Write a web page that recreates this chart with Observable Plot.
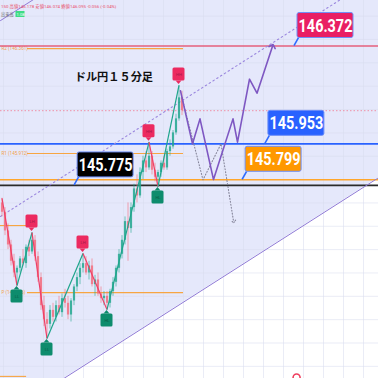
<!DOCTYPE html>
<html>
<head>
<meta charset="utf-8">
<script src="https://cdn.jsdelivr.net/npm/d3@7"></script>
<script src="https://cdn.jsdelivr.net/npm/@observablehq/plot@0.6"></script>
<style>
  html, body { margin: 0; padding: 0; background: #fff; overflow: hidden; }
  #chart svg { display: block; overflow: hidden; }
</style>
</head>
<body>
<div id="chart"></div>
<script>
// USD/JPY 15-minute candles (bar index = position on the time axis)
const open  = [145.700,145.660,145.580,145.520,145.450,145.400,145.420,145.460,145.440,145.510,
               145.490,145.540,145.470,145.380,145.260,145.200,145.180,145.240,145.210,145.260,
               145.230,145.290,145.270,145.220,145.280,145.340,145.380,145.420,145.440,145.400,
               145.430,145.350,145.370,145.310,145.290,145.300,145.270,145.320,145.360,145.420,
               145.480,145.540,145.620,145.590,145.680,145.760,145.730,145.830,145.880,145.850,
               145.900,145.840,145.810,145.830,145.870,145.850,145.920,145.940,146.000,146.060,
               146.150];
const high  = [145.720,145.680,145.610,145.540,145.480,145.430,145.470,145.500,145.520,145.540,
               145.573,145.560,145.490,145.400,145.300,145.230,145.260,145.270,145.280,145.300,
               145.310,145.330,145.300,145.290,145.350,145.400,145.440,145.483,145.470,145.450,
               145.460,145.390,145.400,145.340,145.320,145.320,145.330,145.380,145.430,145.500,
               145.560,145.640,145.700,145.700,145.780,145.820,145.850,145.900,145.920,145.960,
               145.920,145.870,145.840,145.880,145.900,145.930,145.970,146.010,146.080,146.203,
               146.178];
const low   = [145.640,145.560,145.500,145.430,145.380,145.346,145.400,145.430,145.420,145.470,
               145.480,145.450,145.360,145.240,145.170,145.119,145.160,145.190,145.190,145.220,
               145.210,145.250,145.200,145.190,145.260,145.320,145.350,145.400,145.390,145.370,
               145.340,145.300,145.300,145.270,145.260,145.243,145.250,145.300,145.340,145.400,
               145.460,145.520,145.450,145.570,145.660,145.700,145.720,145.800,145.830,145.840,
               145.820,145.790,145.770,145.810,145.840,145.840,145.900,145.930,145.990,146.050,
               146.074];
const close = [145.660,145.580,145.520,145.450,145.400,145.420,145.460,145.440,145.510,145.490,
               145.540,145.470,145.380,145.260,145.200,145.180,145.240,145.210,145.260,145.230,
               145.290,145.270,145.220,145.280,145.340,145.380,145.420,145.440,145.400,145.430,
               145.350,145.370,145.310,145.290,145.300,145.270,145.320,145.360,145.420,145.480,
               145.540,145.620,145.590,145.680,145.760,145.730,145.830,145.880,145.850,145.900,
               145.840,145.810,145.830,145.870,145.850,145.920,145.940,146.000,146.060,146.150,
               146.095];

// ZigZag swing points
const pivotBar   = [0, 5, 10, 15, 27, 35, 49, 52, 59];
const pivotPrice = [145.720, 145.346, 145.573, 145.119, 145.483, 145.243, 145.960, 145.770, 146.203];
const pivotLabel = ["", "LL", "LH", "LL", "LH", "HL", "HH", "HL", "HH"];

// Price callouts and their horizontal levels
const levelPrice  = [146.372, 145.953, 145.799, 145.775];
const levelColor  = ["#e4607c", "#2962ff", "#ffa62b", "#2b2b2b"];
const boxColor    = ["#e91e63", "#2962ff", "#ff9800", "#000000"];
const calloutBar  = [97.5, 87.8, 80.2, 24.2];

// Daily pivot levels (current session) and previous-session stubs
const pivotLevelName  = ["R2", "R1", "P"];
const pivotLevelPrice = [146.361, 145.912, 145.316];
const prevLevelPrice  = [145.603, 144.957];

// Last price
const lastPrice = 146.095;

// Rising channel lines
const channelLowerBar   = [-1, 126];
const channelLowerPrice = [144.771, 145.812];
const channelMidBar     = [-0.5, 126];
const channelMidPrice   = [145.642, 146.679];
const channelUpperBar   = [-0.5, 15];
const channelUpperPrice = [146.481, 146.608];

// Scenario paths
const mainPathBar   = [59.5, 63.5, 66, 70.5, 77, 78.5, 82.5, 85, 90.2];
const mainPathPrice = [146.18, 145.953, 146.06, 145.80, 146.06, 145.96, 146.23, 146.17, 146.372];
const altPathBar    = [60, 67, 73, 77.2];
const altPathPrice  = [146.15, 145.799, 145.953, 145.62];

// Event marker on the time axis
const eventBar = [98.2];

// Header texts
const title = "ドル円１５分足";
const ohlcLine = "150 高値146.178 安値146.074 終値146.095 -0.056 (-0.04%)";
const volLabel = "出来高";
const volValue = "1.08";

// ---- tables built from the arrays ----
const UP = "#22a68f", DOWN = "#f26b7c";
const candles = open.map((o, i) => ({bar: i, open: o, high: high[i], low: low[i], close: close[i],
  color: close[i] >= o ? UP : DOWN}));
const pivots = pivotBar.map((b, i) => ({bar: b, price: pivotPrice[i], label: pivotLabel[i]}));
const legs = d3.pairs(pivots).map(([a, b]) => ({x1: a.bar, y1: a.price, x2: b.bar, y2: b.price,
  color: b.price < a.price ? "#ef3f67" : "#1fa58c"}));
const highs = pivots.filter(d => d.label.endsWith("H"));
const lows = pivots.filter(d => d.label.endsWith("L"));
const levels = levelPrice.map((p, i) => ({price: p, color: levelColor[i]}));
const callouts = levelPrice.map((p, i) => ({price: p, bar: calloutBar[i], color: boxColor[i],
  text: p.toFixed(3)}));
const pivotLevels = pivotLevelPrice.map((p, i) => ({price: p, name: pivotLevelName[i]}));
const prevLevels = prevLevelPrice.map(p => ({price: p}));
const yDomain = [144.948, 146.567];
const toPts = (bs, ps) => bs.map((b, i) => ({bar: b, price: ps[i]}));
const lower = toPts(channelLowerBar, channelLowerPrice).map(d => ({...d, top: yDomain[1] + 0.1}));
const mid = toPts(channelMidBar, channelMidPrice);
const upper = toPts(channelUpperBar, channelUpperPrice);
const mainPath = toPts(mainPathBar, mainPathPrice);
const altPath = toPts(altPathBar, altPathPrice);
const gridPrices = d3.range(14500, 14660, 10).map(v => v / 100);
const gridBars = d3.range(0.5, 126, 20 / 3);

const chart = Plot.plot({
  width: 378, height: 378,
  margin: 0,
  x: {domain: [-0.5, 125.5], axis: null},
  y: {domain: yDomain, axis: null},
  color: {type: "identity"},
  style: {background: "#ffffff", fontFamily: "Roboto, 'Noto Sans CJK JP', sans-serif", overflow: "hidden"},
  marks: [
    // shaded channel above the lower trendline
    Plot.areaY(lower, {x: "bar", y1: "price", y2: "top", fill: "#e5e8fb"}),
    // grid
    Plot.ruleY(gridPrices, {stroke: "#d9dcee", strokeOpacity: 0.55, strokeWidth: 1}),
    Plot.ruleX(gridBars, {stroke: "#d9dcee", strokeOpacity: 0.55, strokeWidth: 1}),
    // daily pivot levels
    Plot.ruleY(pivotLevels, {y: "price", x1: 8.5, x2: 60.5, stroke: "#f7a542", strokeWidth: 1.1}),
    Plot.ruleY(prevLevels, {y: "price", x1: -0.5, x2: 8.2, stroke: "#f7a542", strokeWidth: 1.1}),
    Plot.text(pivotLevels, {y: "price", frameAnchor: "left", dx: 1, text: d => `${d.name} (${d.price.toFixed(3)})`,
      fill: "#f2a04a", fontSize: 4.6, textAnchor: "start"}),
    // last price
    Plot.ruleY([lastPrice], {stroke: "#ef8fa6", strokeDasharray: "1.5,2", strokeWidth: 1}),
    // key levels
    Plot.ruleY(levels, {y: "price", stroke: "color", strokeWidth: 1.6}),
    // channel
    Plot.line(lower, {x: "bar", y: "price", stroke: "#8f7ad6", strokeWidth: 1}),
    Plot.line(upper, {x: "bar", y: "price", stroke: "#8f7ad6", strokeWidth: 1}),
    Plot.line(mid, {x: "bar", y: "price", stroke: "#9a86de", strokeWidth: 1.1, strokeDasharray: "1.5,3"}),
    // candles
    Plot.ruleX(candles, {x: "bar", y1: "low", y2: "high", stroke: "color", strokeWidth: 1, strokeOpacity: 0.6}),
    Plot.ruleX(candles, {x: "bar", y1: "open", y2: "close", stroke: "color", strokeWidth: 2.2, strokeOpacity: 0.8}),
    // zigzag
    Plot.link(legs, {x1: "x1", y1: "y1", x2: "x2", y2: "y2", stroke: "color", strokeWidth: 1.2}),
    // scenarios
    Plot.line(altPath, {x: "bar", y: "price", stroke: "#85859a", strokeWidth: 1.1, strokeDasharray: "1,2", markerEnd: "arrow"}),
    Plot.line(mainPath, {x: "bar", y: "price", stroke: "#7e57c2", strokeWidth: 1.6, markerEnd: "arrow"}),
    // event marker
    Plot.dot(eventBar, {x: d => d, y: yDomain[0] + 0.004, r: 3.5, fill: "#fff", stroke: "#ef3f5f", strokeWidth: 1.6}),
    // swing labels
    Plot.text(highs, {x: "bar", y: "price", text: "label", dy: -11, fontSize: 4.2, fill: "#a8194a", ariaDescription: "pivot-high"}),
    Plot.text(lows, {x: "bar", y: "price", text: "label", dy: 11, fontSize: 4.2, fill: "#0a5e49", ariaDescription: "pivot-low"}),
    // price callouts
    Plot.text(callouts, {x: "bar", y: "price", text: "text", dx: 31, dy: -20.5, fill: "#fff",
      fontSize: 19, fontWeight: "bold", ariaDescription: "callout"}),
    // title
    Plot.text([title], {x: 37.3, y: 146.237, fontSize: 11.2, fontWeight: "bold", fill: "#111",
      fontFamily: "'Noto Sans CJK JP', sans-serif"}),
    // header legend
    Plot.text([ohlcLine], {frameAnchor: "top-left", dx: 0.5, dy: 6, lineAnchor: "middle", textAnchor: "start",
      fontSize: 4.4, fill: "#e9506b"}),
    Plot.text([volLabel], {frameAnchor: "top-left", dx: 0.5, dy: 14, lineAnchor: "middle", textAnchor: "start",
      fontSize: 4.2, fill: "#666"}),
    Plot.text([volValue], {frameAnchor: "top-left", dx: 20, dy: 14, lineAnchor: "middle", textAnchor: "middle",
      fontSize: 4.2, fill: "#fff", ariaDescription: "vol-value"})
  ]
});

// Shapes behind text labels, placed through the chart's scales
const sx = chart.scale("x"), sy = chart.scale("y");
const px = v => sx.apply(v), py = v => sy.apply(v);
const root = d3.select(chart);
const groupOf = name => root.select(`g[aria-description="${name}"]`).node();

// callout boxes with pointers
const cgNode = groupOf("callout");
const boxLayer = root.insert("g", () => cgNode);
callouts.forEach(c => {
  const ax = px(c.bar), ay = py(c.price);
  const bx = ax + 3, by = ay - 33;
  boxLayer.append("line").attr("x1", ax).attr("y1", ay).attr("x2", bx + 1.5).attr("y2", by + 25)
    .attr("stroke", "#2f6bff").attr("stroke-width", 1.6);
  boxLayer.append("rect").attr("x", bx).attr("y", by).attr("width", 56).attr("height", 25).attr("rx", 2)
    .attr("fill", c.color).attr("stroke", "#6f8ff7").attr("stroke-width", 1);
});
// narrow the callout digits horizontally around their own anchor
d3.select(cgNode).selectAll("text").each(function() {
  const t = this.getAttribute("transform") || "";
  this.setAttribute("transform", `${t} scale(0.76,1)`);
});

// swing markers
function markers(name, data, dir, color) {
  const layer = root.insert("g", () => groupOf(name));
  data.forEach(d => {
    const x = px(d.bar), y = py(d.price);
    const cy = y + dir * 11;
    layer.append("rect").attr("x", x - 6).attr("y", cy - 6.5).attr("width", 12).attr("height", 13)
      .attr("rx", 1.5).attr("fill", color);
    const e = cy + dir * -6.5;
    layer.append("path").attr("d", `M${x - 3},${e}L${x + 3},${e}L${x},${e - dir * 3.5}Z`).attr("fill", color);
  });
}
markers("pivot-high", highs, -1, "#ec2a60");
markers("pivot-low", lows, 1, "#0e8c6d");

// volume badge
root.insert("rect", () => groupOf("vol-value")).attr("x", 15.5).attr("y", 11).attr("width", 9).attr("height", 6)
  .attr("fill", "#3ddc84");

document.getElementById("chart").append(chart);
</script>
</body>
</html>
